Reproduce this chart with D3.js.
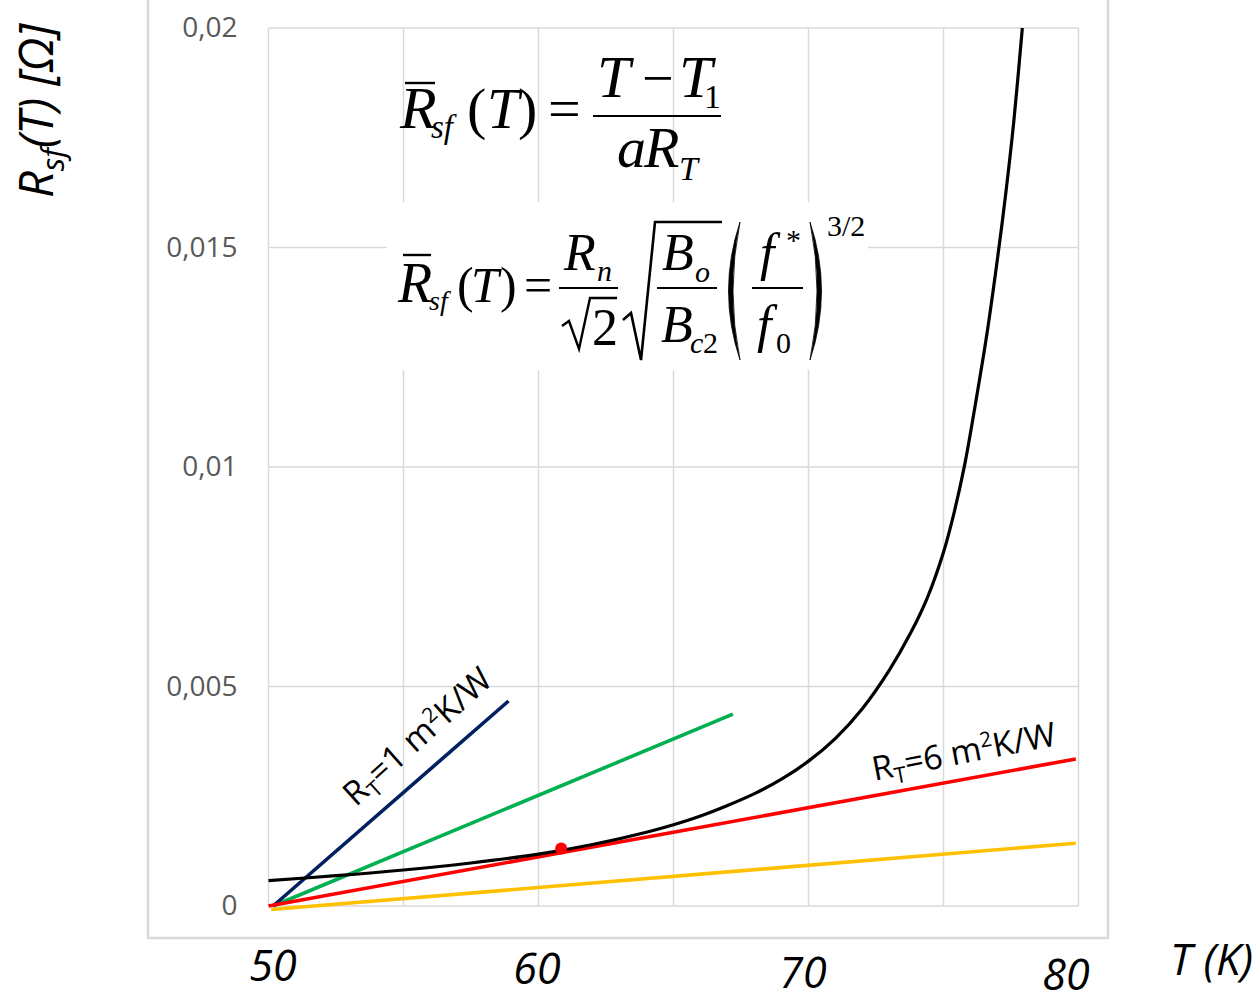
<!DOCTYPE html>
<html>
<head>
<meta charset="utf-8">
<script src="https://cdn.jsdelivr.net/npm/d3@7"></script>
<style>
  body { margin: 0; background: #fff; }
  svg { display: block; }
</style>
</head>
<body>
<svg id="chart" width="1258" height="993"></svg>
<script>
// ---- data ----
const xGridTicks = [50, 55, 60, 65, 70, 75, 80];
const yTicks = [0, 0.005, 0.01, 0.015, 0.02];
const yTickLabels = ["0", "0,005", "0,01", "0,015", "0,02"];
const xLabelValues = [50, 60, 70, 80];
const xLabelTexts = ["50", "60", "70", "80"];

// surface resistance R_sf(T) of the superconducting film
const rsfT = [50, 52.5, 55, 57.5, 60, 62, 64, 65, 66, 67, 68, 69, 70, 71, 72, 73, 73.8, 74.4, 75, 75.4, 75.8, 76.2, 76.6, 77, 77.3, 77.6, 77.92];
const rsfR = [0.00058, 0.00069, 0.00082, 0.00098, 0.00118, 0.00140, 0.00168, 0.00185, 0.00205, 0.00229, 0.00256, 0.00289, 0.00330, 0.00382, 0.00450, 0.00538, 0.00624, 0.00702, 0.00806, 0.00898, 0.01010, 0.0115, 0.0130, 0.01475, 0.0162, 0.01785, 0.0200];

// load lines (T - T1) / (a R_T) for several thermal resistances
const rt1T = [50.17, 58.89];   const rt1R = [0, 0.00467];     // R_T = 1 m²K/W
const rt2T = [50.17, 67.2];    const rt2R = [0, 0.00437];
const rt6T = [50, 79.9];       const rt6R = [0, 0.00335];     // R_T = 6 m²K/W
const rt14T = [50.1, 79.9];    const rt14R = [-0.00008, 0.00143];

// operating point where the R_T = 6 line touches the curve
const opT = [60.84];
const opR = [0.00131];

// ---- layout ----
const svg = d3.select("#chart");
const x = d3.scaleLinear().domain([50, 80]).range([268.5, 1078.5]);
const y = d3.scaleLinear().domain([0, 0.02]).range([906, 28]);
const grid = "#d9d9d9";

// outer chart frame
svg.append("rect")
  .attr("x", 148).attr("y", -6).attr("width", 960).attr("height", 944)
  .attr("fill", "#fff").attr("stroke", grid).attr("stroke-width", 2.5);

// gridlines
svg.append("g").selectAll("line").data(xGridTicks).join("line")
  .attr("x1", d => x(d)).attr("x2", d => x(d))
  .attr("y1", y(0.02)).attr("y2", y(0))
  .attr("stroke", grid).attr("stroke-width", 1.5);
svg.append("g").selectAll("line").data(yTicks).join("line")
  .attr("x1", x(50)).attr("x2", x(80))
  .attr("y1", d => y(d)).attr("y2", d => y(d))
  .attr("stroke", grid).attr("stroke-width", 1.5);

// y axis tick labels
const yAxis = d3.axisLeft(y).tickValues(yTicks)
  .tickFormat((d, i) => yTickLabels[i]).tickSize(0).tickPadding(31);
const gy = svg.append("g").attr("transform", `translate(${x(50)},0)`).call(yAxis);
gy.select(".domain").remove();
gy.selectAll("text")
  .attr("font-family", "Open Sans, sans-serif").attr("font-size", 28)
  .attr("fill", "#595959");

// white panel behind the second formula
svg.append("rect").attr("x", 387).attr("y", 202).attr("width", 481).attr("height", 168).attr("fill", "#fff");

// ---- series ----
const line = d3.line().x(d => x(d[0])).y(d => y(d[1]));
const zip = (a, b) => a.map((v, i) => [v, b[i]]);

const loads = [
  { T: rt14T, R: rt14R, color: "#FFC000" },
  { T: rt2T,  R: rt2R,  color: "#00B050" },
  { T: rt1T,  R: rt1R,  color: "#002060" },
  { T: rt6T,  R: rt6R,  color: "#FF0000" }
];
svg.append("g").selectAll("path").data(loads).join("path")
  .attr("d", d => line(zip(d.T, d.R)))
  .attr("fill", "none").attr("stroke", d => d.color).attr("stroke-width", 3.6);

const smooth = d3.line().x(d => x(d[0])).y(d => y(d[1])).curve(d3.curveCatmullRom.alpha(0.5));
svg.append("path")
  .attr("d", smooth(zip(rsfT, rsfR)))
  .attr("fill", "none").attr("stroke", "#000").attr("stroke-width", 3.2);

svg.append("g").selectAll("circle").data(zip(opT, opR)).join("circle")
  .attr("cx", d => x(d[0])).attr("cy", d => y(d[1])).attr("r", 6)
  .attr("fill", "#FF0000");

// ---- line labels ----
function rtLabel(cx, cy, angle, value) {
  const t = svg.append("text")
    .attr("transform", `translate(${cx},${cy}) rotate(${angle})`)
    .attr("text-anchor", "middle")
    .attr("font-family", "Open Sans, sans-serif").attr("font-size", 33.5).attr("fill", "#000");
  t.append("tspan").text("R");
  t.append("tspan").attr("font-size", 22).attr("dy", 7).text("T");
  t.append("tspan").attr("dy", -7).text(`=${value} m`);
  t.append("tspan").attr("font-size", 21).attr("dy", -12).text("2");
  t.append("tspan").attr("dy", 12).text("K/W");
}
rtLabel(425, 745, -42, 1);
rtLabel(966, 763, -11, 6);

// ---- axis titles ----
const xl = svg.append("g");
const xLabelShift = [[4.5, 981], [-1.5, 984], [-5.5, 988], [-12.5, 990]];
xl.selectAll("text").data(xLabelValues).join("text")
  .attr("x", (d, i) => x(d) + xLabelShift[i][0])
  .attr("y", (d, i) => xLabelShift[i][1])
  .attr("text-anchor", "middle")
  .attr("font-family", "Open Sans, sans-serif").attr("font-style", "italic")
  .attr("font-size", 43).attr("fill", "#000")
  .text((d, i) => xLabelTexts[i]);

svg.append("text").attr("x", 1170).attr("y", 975)
  .attr("font-family", "Open Sans, sans-serif").attr("font-style", "italic")
  .attr("font-size", 44).attr("fill", "#000").text("T (K)");

const yt = svg.append("text")
  .attr("transform", "translate(53,198) rotate(-90)")
  .attr("font-family", "Open Sans, sans-serif").attr("font-style", "italic")
  .attr("font-size", 47).attr("fill", "#000");
yt.append("tspan").text("R");
yt.append("tspan").attr("font-size", 31).attr("dy", 11).text("sf");
yt.append("tspan").attr("dy", -11).text("(T) [Ω]");

// ---- formulas ----
const serif = "Liberation Serif, Times New Roman, serif";
function mt(xp, yp, str, size, italic) {
  return svg.append("text").attr("x", xp).attr("y", yp)
    .attr("font-family", serif).attr("font-size", size)
    .attr("font-style", italic ? "italic" : "normal").attr("fill", "#000").text(str);
}
function rule(x1, y1, x2, y2, w) {
  svg.append("line").attr("x1", x1).attr("y1", y1).attr("x2", x2).attr("y2", y2)
    .attr("stroke", "#000").attr("stroke-width", w || 2.2);
}
function paren(xp, yp, str, size) {
  return mt(xp, yp, str, size, false);
}
function bigParen(xTip, xBulgeOut, xBulgeIn, yTop, yBot) {
  const ym = (yTop + yBot) / 2;
  svg.append("path")
    .attr("d", `M${xTip},${yTop} Q${xBulgeOut},${ym} ${xTip},${yBot} Q${xBulgeIn},${ym} ${xTip},${yTop} Z`)
    .attr("fill", "#000").attr("stroke", "#000").attr("stroke-width", 0.8);
}

// first formula: R̄sf(T) = (T − T1) / (a R_T)
mt(400, 128, "R", 60, true);
rule(405, 83, 435, 83, 2.4);
mt(431, 138, "sf", 33, true);
paren(467, 128, "(", 58);
mt(487, 128, "T", 58, true);
paren(518, 128, ")", 58);
paren(548, 128, "=", 58);
rule(593, 116, 721, 116, 2.2);
mt(597, 97, "T", 60, true);
paren(642, 97, "−", 56);
mt(679, 97, "T", 60, true);
paren(704, 108, "1", 34);
mt(617, 167, "a", 58, true);
mt(644, 167, "R", 58, true);
mt(679, 180, "T", 34, true);

// second formula: R̄sf(T) = Rn/√2 · √(Bo/Bc2) · (f*/f0)^(3/2)
mt(398, 302, "R", 56, true);
rule(403, 255, 431, 255, 2.4);
mt(429, 310, "sf", 28, true);
paren(457, 302, "(", 50);
mt(471, 302, "T", 50, true);
paren(500, 302, ")", 50);
paren(524, 302, "=", 50);
rule(559, 288, 618, 288, 2.2);
mt(564, 270, "R", 52, true);
mt(597, 281, "n", 30, true);
svg.append("path").attr("d", "M562,326 L569,321 L579,349 L590,298 L617,298")
  .attr("fill", "none").attr("stroke", "#000").attr("stroke-width", 2.4);
paren(592, 345, "2", 52);
svg.append("path").attr("d", "M623,320 L631,313 L641,360 L655,222 L722,222")
  .attr("fill", "none").attr("stroke", "#000").attr("stroke-width", 2.6);
rule(657, 288, 717, 288, 2.2);
mt(662, 270, "B", 52, true);
mt(695, 282, "o", 30, true);
mt(661, 342, "B", 52, true);
mt(690, 353, "c", 30, true);
paren(703, 353, "2", 30);
bigParen(740, 717, 726, 222, 360);
bigParen(810, 833, 824, 222, 360);
rule(752, 288, 803, 288, 2.2);
mt(760, 270, "f", 52, true);
paren(786, 250, "*", 30);
mt(757, 342, "f", 52, true);
paren(776, 353, "0", 30);
paren(827, 236, "3/2", 30);
</script>
</body>
</html>
